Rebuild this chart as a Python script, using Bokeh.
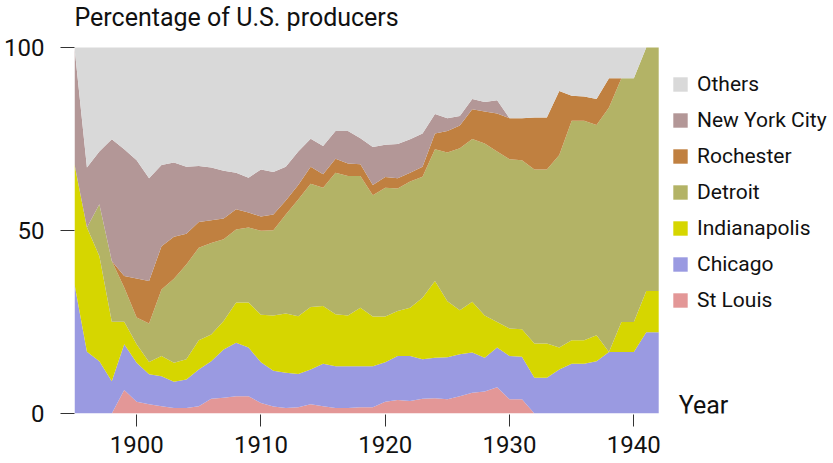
from bokeh.plotting import figure
from bokeh.models import (ColumnDataSource, Range1d, FixedTicker, Legend, LegendItem,
                          Label)
from bokeh.embed import file_html
from bokeh.resources import INLINE

years = list(range(1895, 1943))

st_louis = [0, 0, 0, 0, 6.4, 3.2, 2.5, 2.0, 1.5, 1.5, 2.0, 4.0, 4.3, 4.7, 4.7, 2.9,
            1.9, 1.5, 1.7, 2.5, 2.0, 1.5, 1.5, 1.7, 1.7, 3.2, 3.7, 3.4, 4.0, 4.2,
            3.9, 4.7, 5.7, 6.0, 7.2, 3.9, 3.9, 0, 0, 0, 0, 0, 0, 0, 0, 0, 0, 0]
chicago = [35.3, 16.9, 14.3, 8.8, 12.5, 10.7, 8.2, 8.2, 7.2, 7.8, 10.0, 10.3, 13.2, 14.6,
           13.3, 11.1, 9.8, 9.6, 9.1, 9.5, 11.6, 11.4, 11.4, 11.2, 11.2, 10.8, 12.0,
           12.3, 10.8, 11.0, 11.5, 11.5, 11.0, 9.2, 10.8, 11.8, 11.6, 9.8, 9.8, 12.0,
           13.6, 13.6, 14.3, 16.8, 16.8, 16.8, 22.2, 22.2]
indianapolis = [32.8, 33.9, 28.7, 16.3, 6.2, 5.0, 3.4, 5.5, 5.2, 5.5, 8.0, 7.3, 7.8, 11.0,
                12.3, 13.0, 15.1, 16.2, 15.8, 17.1, 15.8, 14.2, 13.9, 16.0, 13.6, 12.5,
                12.3, 13.2, 16.8, 21.0, 15.3, 12.0, 13.8, 11.6, 7.0, 7.5, 7.5, 9.3, 9.3,
                6.0, 6.4, 6.4, 7.1, 0, 8.2, 8.2, 11.3, 11.3]
detroit = [0, 0, 14.2, 16.6, 9.3, 7.3, 10.5, 18.2, 22.9, 25.9, 25.3, 25.0, 22.3, 20.0,
           20.5, 22.9, 23.3, 27.1, 31.9, 33.7, 32.3, 38.7, 38.1, 36.0, 33.1, 35.2, 33.5,
           34.5, 33.1, 36.0, 40.6, 44.3, 44.5, 47.0, 46.6, 46.3, 46.2, 47.6, 47.6, 52.6,
           60.0, 60.0, 57.4, 66.8, 66.6, 66.6, 66.5, 66.5]
rochester = [0, 0, 0, 0, 3.2, 10.7, 11.6, 11.8, 11.5, 8.4, 7.0, 6.2, 5.7, 5.5, 4.1, 3.9,
             4.3, 3.8, 3.9, 4.6, 3.7, 3.8, 3.4, 3.2, 2.8, 2.9, 2.8, 2.4, 2.7, 4.3, 5.9,
             6.2, 8.1, 8.7, 10.4, 11.2, 11.5, 14.2, 14.2, 17.5, 6.8, 6.6, 7.1, 8.0, 0, 0,
             0, 0]
new_york_city = [31.9, 16.4, 14.4, 33.2, 34.6, 32.3, 28.1, 22.2, 20.3, 18.3, 15.3, 14.4,
                 13.0, 10.0, 9.5, 12.9, 11.6, 9.2, 9.2, 7.7, 7.7, 7.6, 8.9, 7.1, 10.4, 8.8,
                 9.3, 9.1, 9.1, 5.3, 3.5, 2.6, 2.8, 2.6, 3.6, 0, 0, 0, 0, 0, 0, 0, 0, 0, 0,
                 0, 0, 0]
others = [0, 32.8, 28.4, 25.1, 27.8, 30.8, 35.7, 32.1, 31.4, 32.6, 32.4, 32.8, 33.7, 34.2,
          35.6, 33.3, 34.0, 32.6, 28.4, 24.9, 26.9, 22.8, 22.8, 24.8, 27.2, 26.6, 26.4,
          25.1, 23.5, 18.2, 19.3, 18.7, 14.1, 14.9, 14.4, 19.3, 19.3, 19.1, 19.1, 11.9,
          13.2, 13.4, 14.1, 8.4, 8.4, 8.4, 0, 0]

series_names = ["St Louis", "Chicago", "Indianapolis", "Detroit", "Rochester",
                "New York City", "Others"]
series_keys = ["st_louis", "chicago", "indianapolis", "detroit", "rochester",
               "new_york_city", "others"]
colors = ["#e39797", "#9a9ae1", "#d6d600", "#b3b366", "#c08040", "#b39797", "#d9d9d9"]

x_ticks = [1900, 1910, 1920, 1930, 1940]
y_ticks = [0, 50, 100]

source = ColumnDataSource(dict(year=years, st_louis=st_louis, chicago=chicago,
                               indianapolis=indianapolis, detroit=detroit,
                               rochester=rochester, new_york_city=new_york_city,
                               others=others))

FONT = "Roboto"

# Frame covers the whole canvas apart from the two axis panels, so that the title,
# legend and "Year" label can be drawn inside it (annotations are clipped to the frame).
W, H = 833, 463
LEFT, BOTTOM = 74, 50
PX_PER_YEAR = 12.43
PX_PER_PCT = 3.66
x_end = years[0] + (W - LEFT) / PX_PER_YEAR
y_end = (H - BOTTOM) / PX_PER_PCT

p = figure(width=W, height=H, output_backend="svg", toolbar_location=None,
           x_range=Range1d(years[0], x_end), y_range=Range1d(0, y_end),
           min_border_left=LEFT, min_border_right=0, min_border_top=0,
           min_border_bottom=BOTTOM)

renderers = p.varea_stack(stackers=series_keys, x="year", color=colors, source=source)
for r in renderers:
    r.glyph.fill_alpha = 1.0

p.outline_line_color = None
p.xgrid.grid_line_color = None
p.ygrid.grid_line_color = None
p.background_fill_color = "white"
p.border_fill_color = "white"

xa = p.xaxis[0]
xa.ticker = FixedTicker(ticks=x_ticks)
xa.axis_line_color = None
xa.major_tick_in = -1
xa.major_tick_out = 13
xa.minor_tick_line_color = None
xa.major_tick_line_color = "#333333"
xa.major_label_text_font = FONT
xa.major_label_text_font_size = "24px"
xa.major_label_text_color = "#111111"
xa.major_label_standoff = 9

ya = p.yaxis[0]
ya.ticker = FixedTicker(ticks=y_ticks)
ya.axis_line_color = None
ya.major_tick_in = 0
ya.major_tick_out = 14
ya.minor_tick_line_color = None
ya.major_tick_line_color = "#333333"
ya.major_label_text_font = FONT
ya.major_label_text_font_size = "24px"
ya.major_label_text_color = "#111111"
ya.major_label_standoff = 16

# title above the 100 line
p.add_layout(Label(x=years[0], y=100 + 30 / PX_PER_PCT, text="Percentage of U.S. producers",
                   text_font=FONT, text_font_size="25px", text_color="#111111",
                   text_baseline="middle", text_align="left"))

# axis name at the right end of the x axis
p.add_layout(Label(x=years[-1], y=8.5 / PX_PER_PCT, x_offset=20, text="Year",
                   text_font=FONT, text_font_size="25px", text_color="#111111",
                   text_baseline="middle", text_align="left"))

items = [LegendItem(label=name, renderers=[r])
         for name, r in zip(series_names, renderers)][::-1]
legend = Legend(items=items, location=(597, 101), orientation="vertical",
                glyph_width=18, glyph_height=18, label_height=20, spacing=12,
                label_standoff=8, padding=0, margin=0,
                label_text_font=FONT, label_text_font_size="21px",
                label_text_color="#111111", border_line_color=None,
                background_fill_alpha=0)
p.add_layout(legend, "center")

open("out.html", "w").write(file_html(p, INLINE))
